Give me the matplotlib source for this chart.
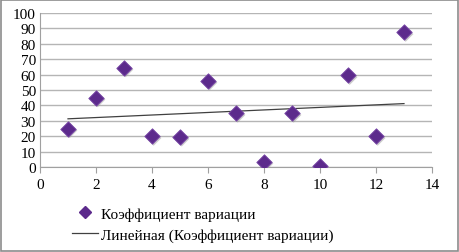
import numpy as np
import matplotlib.pyplot as plt
from matplotlib.patches import Rectangle
from matplotlib.lines import Line2D

plt.rcParams['font.family'] = ['Liberation Serif', 'DejaVu Serif']

# data
x_vals = [1, 2, 3, 4, 5, 6, 7, 8, 9, 10, 11, 12, 13]
cv_vals = [25, 45, 64.5, 20, 19.5, 56, 35, 3.5, 35, 0.5, 59.5, 20, 87.5]
series_label = "Коэффициент вариации"
trend_label = "Линейная (Коэффициент вариации)"

fig = plt.figure(figsize=(4.6, 2.53), dpi=100)
ax = fig.add_axes([40 / 460, 1 - 168 / 253, 392 / 460, 154 / 253])

purple = "#5c2a8c"

# shadow under markers
ax.scatter(np.array(x_vals) + 0.06, np.array(cv_vals) - 1.2, marker="D", s=62,
           color="#999999", alpha=0.5, edgecolors="none", zorder=3)
ax.scatter(x_vals, cv_vals, marker="D", s=62, color=purple,
           edgecolors="#7b4aa8", linewidths=0.6, zorder=4)

# linear trend
k, b = np.polyfit(x_vals, cv_vals, 1)
xt = np.array([x_vals[0], x_vals[-1]])
ax.plot(xt, k * xt + b, color="#404040", lw=0.9, zorder=3)

ax.set_xlim(0, 14)
ax.set_ylim(0, 100)
ax.set_xticks(range(0, 15, 2))
ax.set_yticks(range(0, 101, 10))
ax.yaxis.grid(True, color="#b5b5b5", lw=1)
ax.set_axisbelow(True)
for s in ["top", "right"]:
    ax.spines[s].set_visible(False)
ax.spines["left"].set_color("#a0a0a0")
ax.spines["bottom"].set_color("#a0a0a0")
ax.tick_params(axis="x", length=4, color="#a0a0a0", labelsize=11, pad=4)
ax.tick_params(axis="y", length=0, labelsize=11, pad=3)

handles = [
    Line2D([], [], marker="D", ls="none", color=purple, markersize=6),
    Line2D([], [], color="#404040", lw=0.9),
]
fig.legend(handles, [series_label, trend_label], loc="upper left",
           bbox_to_anchor=(66 / 460, 1 - 202 / 253), frameon=False,
           fontsize=11, handlelength=1.7, handletextpad=0.2, labelspacing=0.45,
           borderaxespad=0)

fig.patches.append(Rectangle((0.003, 0.005), 0.992, 0.99, transform=fig.transFigure,
                             fill=False, edgecolor="#8c8c8c", lw=1.2))

fig.savefig("out.png", dpi=100)
